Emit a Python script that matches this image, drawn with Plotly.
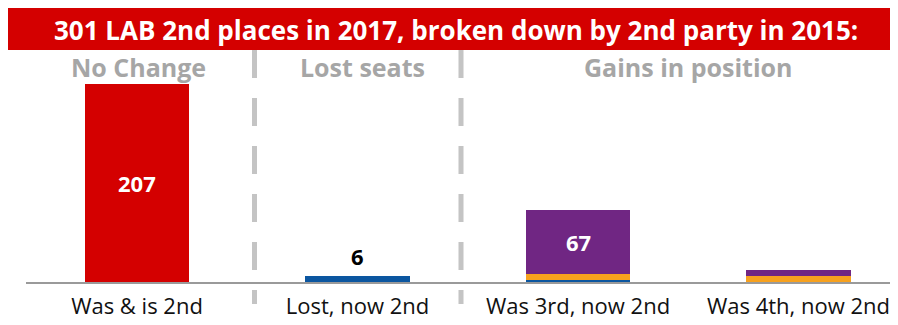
import plotly.graph_objects as go

categories = ["Was & is 2nd", "Lost, now 2nd", "Was 3rd, now 2nd", "Was 4th, now 2nd"]
red_vals = [207, 0, 0, 0]
blue_vals = [0, 6, 2, 0]
orange_vals = [0, 0, 6, 6]
purple_vals = [0, 0, 67, 7]
section_labels = ["No Change", "Lost seats", "Gains in position"]
title_text = "301 LAB 2nd places in 2017, broken down by 2nd party in 2015:"

OFF = 8                 # page body margin in the browser
W, H = 898 - OFF, 325 - OFF
L, R = 26 - OFF, 898 - OFF   # plot domain in px (figure coords)
BASE = 282 - OFF             # baseline y px
PX_PER_UNIT = 0.957
CAT_PX = 220.5
C0 = 137 - OFF

def px_x(p):
    return (p - OFF - L) / (R - L)

def px_y(p):
    return (BASE - (p - OFF)) / BASE

FONT = "Open Sans"
RED = "#d40000"
BLUE = "#0b56a0"
ORANGE = "#f7a11e"
PURPLE = "#702683"
GRAY = "#a6a6a6"

x = list(range(len(categories)))
fig = go.Figure()
for vals, col in [(red_vals, RED), (blue_vals, BLUE), (orange_vals, ORANGE), (purple_vals, PURPLE)]:
    fig.add_trace(go.Bar(x=x, y=vals, marker=dict(color=col, line=dict(width=0)),
                         width=0.476, hoverinfo="skip", showlegend=False))

xr0 = (L - C0) / CAT_PX
xr1 = (R - C0) / CAT_PX
yr1 = BASE / PX_PER_UNIT

fig.update_layout(
    width=W, height=H,
    margin=dict(l=L, r=W - R, t=0, b=H - BASE, pad=0),
    barmode="stack",
    plot_bgcolor="white", paper_bgcolor="white",
    xaxis=dict(range=[xr0, xr1], tickmode="array", tickvals=x, ticktext=categories,
               showline=True, linecolor="#9a9a9a", linewidth=2, showgrid=False, zeroline=False,
               ticks="", tickfont=dict(family=FONT, size=22, color="#111111"),
               ticklabelstandoff=4, fixedrange=True),
    yaxis=dict(range=[0, yr1], visible=False, showgrid=False, zeroline=False, fixedrange=True),
)

shapes = []
# title bar
shapes.append(dict(type="rect", xref="paper", yref="paper",
                   x0=px_x(3), x1=px_x(893), y0=px_y(50), y1=px_y(8),
                   fillcolor=RED, line=dict(width=0), layer="below"))
# dashed separators
for xp in [254.5, 461]:
    shapes.append(dict(type="line", xref="paper", yref="paper",
                       x0=px_x(xp), x1=px_x(xp), y0=px_y(50), y1=px_y(304),
                       line=dict(color="#c4c4c4", width=5, dash="28px,20px")))
fig.update_layout(shapes=shapes)

ann = []
ann.append(dict(xref="paper", yref="paper", x=px_x(456), y=px_y(30), text="<b>" + title_text + "</b>",
                showarrow=False, font=dict(family=FONT, size=26, color="white"),
                xanchor="center", yanchor="middle"))
for lbl, xp in zip(section_labels, [138, 362, 688]):
    ann.append(dict(xref="paper", yref="paper", x=px_x(xp), y=px_y(67), text="<b>" + lbl + "</b>",
                    showarrow=False, font=dict(family=FONT, size=25, color=GRAY),
                    xanchor="center", yanchor="middle"))
# value labels
ann.append(dict(x=0, y=red_vals[0] / 2, text="<b>%d</b>" % red_vals[0], showarrow=False,
                font=dict(family=FONT, size=22, color="white")))
ann.append(dict(x=1, y=blue_vals[1], text="<b>%d</b>" % blue_vals[1], showarrow=False, yanchor="bottom",
                yshift=3, font=dict(family=FONT, size=22, color="black")))
ann.append(dict(x=2, y=blue_vals[2] + orange_vals[2] + purple_vals[2] / 2, text="<b>%d</b>" % purple_vals[2],
                showarrow=False, font=dict(family=FONT, size=22, color="white")))
fig.update_layout(annotations=ann)

fig.write_html("out.html")
